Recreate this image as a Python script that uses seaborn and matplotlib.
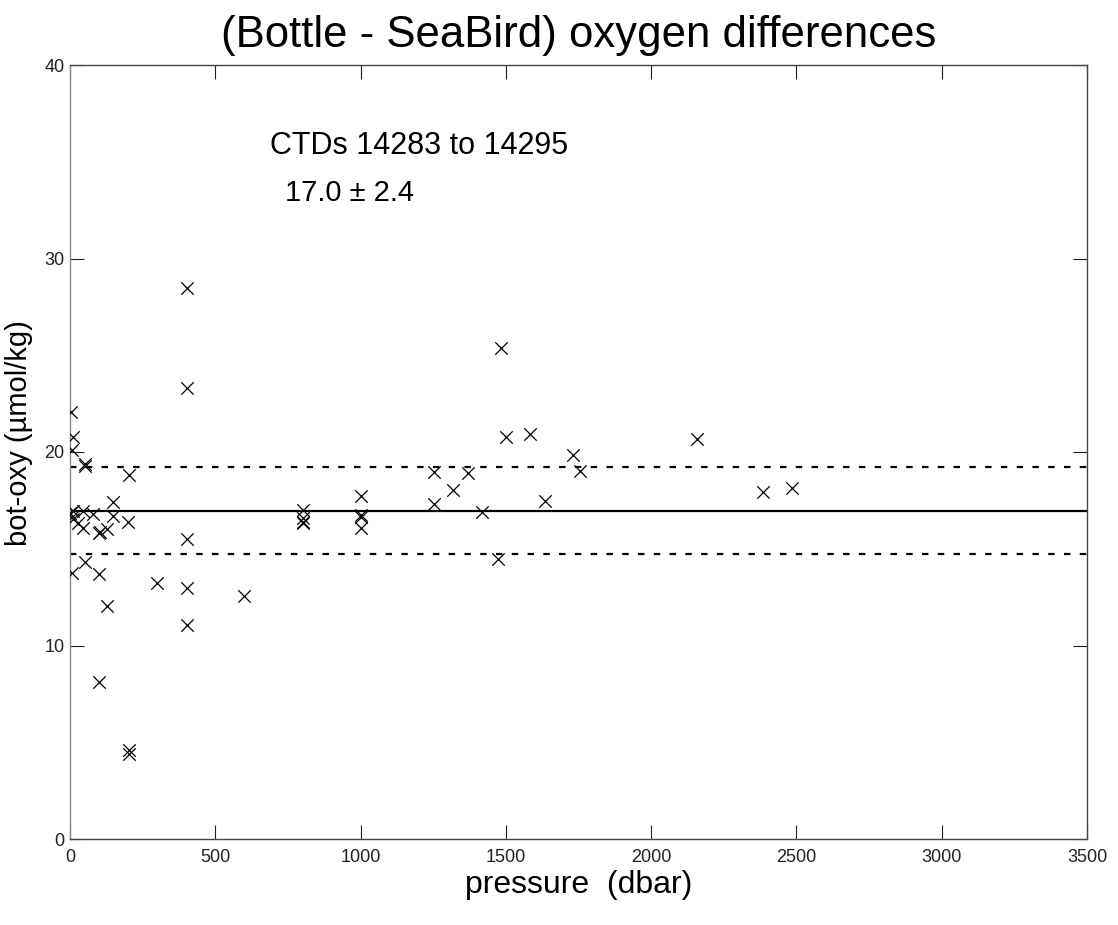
import matplotlib
matplotlib.use("Agg")
import matplotlib.pyplot as plt
import seaborn as sns
import pandas as pd

# ---- data ----
pressure = [4, 11, 7, 50, 52, 202, 149, 9, 0, 6, 11, 46, 78, 149, 201, 29, 46, 126,
            101, 104, 401, 50, 7, 101, 298, 401, 599, 126, 401, 401, 401, 101, 202, 202,
            1484, 1501, 1584, 1730, 1756, 1254, 1371, 1319, 1253, 1419, 1633, 1472,
            801, 801, 801, 801, 1002, 1002, 1002, 1002, 2157, 2386, 2486]
oxy_diff = [22.05, 20.76, 20.1, 19.4, 19.3, 18.8, 17.4, 16.97, 16.83, 16.66, 16.52, 16.97,
            16.82, 16.69, 16.37, 16.31, 16.06, 16.0, 15.8, 15.85, 15.52, 14.33, 13.73, 13.7,
            13.23, 12.95, 12.57, 12.03, 11.06, 23.29, 28.48, 8.13, 4.6, 4.4,
            25.36, 20.76, 20.91, 19.83, 19.02, 18.97, 18.93, 18.02, 17.3, 16.88, 17.47, 14.45,
            17.0, 16.57, 16.31, 16.4, 17.74, 16.74, 16.65, 16.06, 20.66, 17.95, 18.12]
mean_value = 16.97
band_values = [19.2, 14.75]
x_ticks = [0, 500, 1000, 1500, 2000, 2500, 3000, 3500]
y_ticks = [0, 10, 20, 30, 40]

df = pd.DataFrame({"pressure": pressure, "diff": oxy_diff})

sns.set_style("white")
plt.rcParams['font.family'] = ['Liberation Sans', 'DejaVu Sans']
plt.rcParams['text.color'] = 'black'
plt.rcParams['axes.labelcolor'] = 'black'

fig = plt.figure(figsize=(11.18, 9.25), dpi=100)
ax = fig.add_axes([70/1118, 86/925, 1017/1118, 774/925])

sns.scatterplot(data=df, x="pressure", y="diff", marker="x", color="black",
                s=80, linewidth=0.9, ax=ax, legend=False, zorder=3)

ax.axhline(mean_value, color="black", lw=1.6, zorder=2)
for b in band_values:
    ax.axhline(b, color="black", lw=1.6, linestyle=(0, (2.9, 4.2)), zorder=2)

ax.set_xlim(0, 3500)
ax.set_ylim(0, 40)
ax.set_xticks(x_ticks)
ax.set_yticks(y_ticks)
ax.set_xticklabels([str(t) for t in x_ticks])
ax.set_yticklabels([str(t) for t in y_ticks])
ax.tick_params(direction="in", length=10, width=0.8, bottom=True, left=True,
               top=True, right=True, labelsize=13, colors="#222222", pad=4)
ax.tick_params(axis="x", pad=7)
for s in ax.spines.values():
    s.set_visible(True)
    s.set_color("#444444")
    s.set_linewidth(1.0)
ax.spines["left"].set_color("#888888")

ax.set_xlabel("pressure  (dbar)", fontsize=23, labelpad=3)
ax.set_ylabel("bot-oxy (\u00b5mol/kg)", fontsize=21)
ax.yaxis.set_label_coords(-0.036, 0.5245)
ax.set_title("(Bottle - SeaBird) oxygen differences", fontsize=31.5, pad=13)

ax.text(0.197, 0.895, "CTDs 14283 to 14295", transform=ax.transAxes, fontsize=22,
        ha="left", va="center")
ax.text(0.211, 0.835, "17.0 \u00b1 2.4", transform=ax.transAxes, fontsize=21,
        ha="left", va="center")

ax.grid(False)
fig.savefig("out.png", dpi=100, facecolor="white")
